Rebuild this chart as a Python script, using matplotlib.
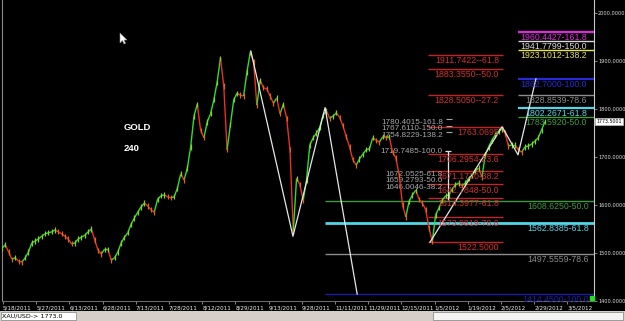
import numpy as np
import matplotlib
matplotlib.use("Agg")
import matplotlib.pyplot as plt
from matplotlib import font_manager
from matplotlib.collections import LineCollection
from matplotlib.patches import Rectangle, Polygon

# ---- data (XAU/USD, 240 min bars, closes) ----
closes = [
    1510, 1517, 1502, 1487, 1490, 1483, 1481, 1490, 1502, 1521,
    1525, 1529, 1535, 1540, 1542, 1544, 1548, 1544, 1540, 1535,
    1529, 1519, 1521, 1529, 1533, 1537, 1544, 1550, 1527, 1506,
    1498, 1508, 1508, 1485, 1490, 1502, 1521, 1533, 1542, 1560,
    1573, 1585, 1596, 1604, 1598, 1590, 1585, 1612, 1619, 1621,
    1617, 1615, 1617, 1635, 1665, 1652, 1677, 1721, 1785, 1810,
    1756, 1740, 1773, 1790, 1819, 1856, 1906, 1848, 1715, 1767,
    1819, 1833, 1829, 1827, 1877, 1918, 1898, 1808, 1860, 1844,
    1842, 1827, 1812, 1823, 1790, 1810, 1781, 1715, 1545, 1656,
    1642, 1610, 1652, 1725, 1740, 1750, 1762, 1787, 1796, 1781,
    1785, 1792, 1783, 1765, 1742, 1721, 1694, 1683, 1696, 1706,
    1715, 1717, 1740, 1735, 1731, 1742, 1740, 1742, 1710, 1698,
    1662, 1600, 1575, 1608, 1621, 1631, 1612, 1604, 1590, 1552,
    1524, 1579, 1594, 1610, 1619, 1621, 1633, 1642, 1646, 1640,
    1646, 1656, 1662, 1671, 1677, 1658, 1704, 1721, 1735, 1746,
    1754, 1758, 1750, 1723, 1725, 1725, 1715, 1710, 1721, 1723,
    1727, 1733, 1740, 1756, 1773.5,
]
last_price = 1773.5001

date_labels = ["5/18/2011", "5/27/2011", "6/13/2011", "6/28/2011", "7/13/2011",
               "7/28/2011", "8/12/2011", "8/29/2011", "9/13/2011", "9/28/2011",
               "11/11/2011", "11/29/2011", "12/15/2011", "1/5/2012", "1/19/2012",
               "2/5/2012", "2/29/2012", "3/5/2012"]
price_ticks = [1400, 1500, 1600, 1700, 1800, 1900, 2000]

# white zigzags (bar index, price)
zz1_bar = [75.2, 87.9, 97.6, 107.3]
zz1_price = [1920.3, 1534.8, 1803.0, 1414.45]
zz2_bar = [129.3, 151.1, 155.9, 161.3]
zz2_price = [1522.5, 1763.07, 1704.47, 1862.7]

# projection levels of the first zigzag (long lines to the right edge)
long_prices = [1608.625, 1562.8385, 1497.5559, 1414.45]
long_labels = ["1608.6250-50.0", "1562.8385-61.8", "1497.5559-78.6", "1414.4500-100.0"]
long_colors = ["#3c9c3c", "#52d6e6", "#8c8c8c", "#1c1ca8"]

# extension levels of the second zigzag (top right)
top_prices = [1960.4427, 1941.7799, 1923.1012, 1862.7, 1828.8539, 1802.2671, 1783.592]
top_labels = ["1960.4427-161.8", "1941.7799-150.0", "1923.1012-138.2", "1862.7000-100.0",
              "1828.8539-78.6", "1802.2671-61.8", "1783.5920-50.0"]
top_colors = ["#e028e0", "#d8d8d8", "#e6e644", "#2a2ad8", "#8c8c8c", "#52d6e6", "#3c9c3c"]

# retracement / extension of 1522.5 -> 1763.07 (red)
red_prices = [1911.7422, 1883.355, 1828.505, 1763.0695, 1706.2954, 1671.172,
              1642.7848, 1614.3977, 1573.9819, 1522.5]
red_labels = ["1911.7422--61.8", "1883.3550--50.0", "1828.5050--27.2", "1763.0695",
              "1706.2954-23.6", "1671.1720-38.2", "1642.7848-50.0", "1614.3977-61.8",
              "1573.9819-78.6", "1522.5000"]

# grey extension labels
grey_prices = [1780.4015, 1767.6110, 1754.8229, 1719.7485, 1672.0525, 1659.2793, 1646.0046]
grey_labels = ["1780.4015-161.8", "1767.6110-150.0", "1754.8229-138.2", "1719.7485-100.0",
               "1672.0525-61.8", "1659.2793-50.0", "1646.0046-38.2"]

# ---- fonts ----
names = {f.name for f in font_manager.fontManager.ttflist}
NARROW = "Liberation Sans Narrow" if "Liberation Sans Narrow" in names else "DejaVu Sans"
SANS = "Liberation Sans" if "Liberation Sans" in names else "DejaVu Sans"
fs_lab = 6.3 if SANS != "DejaVu Sans" else 5.6
fs_small = 4.5 if NARROW != "DejaVu Sans" else 3.6

W, H = 625, 321
PX = 3.31  # pixels per bar


def bx(px):
    return (px - 2) / PX


fig = plt.figure(figsize=(W / 100, H / 100), dpi=100, facecolor="black")
ax = fig.add_axes([2 / W, 20 / H, 592 / W, 301 / H], facecolor="black")
ax.set_xlim(0, 592 / PX)
ax.set_ylim(1400.0, 2027.1)

# price bars: thin line, green up / red down, with short bar ticks
xs = np.arange(len(closes))
pts = np.column_stack([xs, closes])
segs = np.stack([pts[:-1], pts[1:]], axis=1)
up = [b >= a for a, b in zip(closes[:-1], closes[1:])]
cols = ["#2ede2e" if u else "#e8321e" for u in up]
ax.add_collection(LineCollection(segs, colors=cols, linewidths=1.0, zorder=3))
tick_cols = ["#8ccf2a" if u else "#d9681c" for u in [True] + up]
ax.scatter(xs, closes, marker="|", s=14, c=tick_cols, linewidths=0.9, zorder=3)

# zigzags
ax.plot(zz1_bar, zz1_price, color="#e6e6e6", lw=0.9, zorder=4)
ax.plot(zz2_bar, zz2_price, color="#e6e6e6", lw=0.9, zorder=4)

# long level lines
for p, lab, c in zip(long_prices, long_labels, long_colors):
    ax.hlines(p, zz1_bar[2], 592 / PX, color=c, lw=2.0 if c == "#52d6e6" else 1.0, zorder=2)
    ax.annotate(lab, (bx(589), p), xytext=(0, -0.8), textcoords="offset points",
                ha="right", va="top", color=c, fontsize=fs_lab, family=SANS, zorder=5)

# top right levels
for p, lab, c in zip(top_prices, top_labels, top_colors):
    ax.hlines(p, zz2_bar[2], 592 / PX, color=c,
              lw=1.6 if c in ("#52d6e6", "#e028e0", "#2a2ad8") else 1.0, zorder=2)
    ax.annotate(lab, (bx(587), p), xytext=(0, -0.8), textcoords="offset points",
                ha="right", va="top", color=c, fontsize=fs_lab, family=SANS, zorder=5)

# red levels
for p, lab in zip(red_prices, red_labels):
    ax.hlines(p, zz2_bar[0] - 0.5, zz2_bar[1] + 0.4, color="#c02424", lw=1.0, zorder=2)
    ax.annotate(lab, (bx(499), p), xytext=(0, -0.8), textcoords="offset points",
                ha="right", va="top", color="#d23030", fontsize=fs_lab, family=SANS, zorder=5)

# grey labels (stacked tightly, as in the source)
for p, lab in zip(grey_prices, grey_labels):
    ax.annotate(lab, (bx(443), p), xytext=(0, -0.6), textcoords="offset points",
                ha="right", va="top", color="#a8a8a8", fontsize=fs_lab - 0.4, family=SANS,
                zorder=2)
for p in grey_prices[:3]:
    ax.hlines(p - 2, bx(446), bx(452), color="#a8a8a8", lw=0.8, zorder=2)

# small white marker
ax.vlines(bx(448), 1611, 1713, color="#e0e0e0", lw=0.9, zorder=4)
ax.hlines(1713, bx(445), bx(451), color="#e0e0e0", lw=0.9, zorder=4)

# title text
ax.text(bx(124), 1762, "GOLD", color="white", fontsize=6.8, fontweight="bold",
        family=SANS, va="center", ha="left")
ax.text(bx(124), 1718, "240", color="white", fontsize=6.8, fontweight="bold",
        family=SANS, va="center", ha="left")

# axes styling
ax.yaxis.tick_right()
ax.set_yticks(price_ticks)
ax.set_yticklabels([f"{v:.4f}" for v in price_ticks])
ax.set_xticks([0.3 + 10.03 * k for k in range(len(date_labels))])
ax.set_xticklabels(date_labels, ha="left")
ax.tick_params(axis="y", colors="#9a9a9a", labelcolor="#e0e0e0", length=2, width=0.6,
               labelsize=fs_small, pad=1.0)
ax.tick_params(axis="x", colors="#9a9a9a", labelcolor="#f0f0f0", length=2, width=0.6,
               labelsize=fs_small + 0.5, pad=1.0)
for lab in ax.get_xticklabels() + ax.get_yticklabels():
    lab.set_family(NARROW)
ax.spines["top"].set_visible(False)
ax.spines["right"].set_color("#c8c8c8")
ax.spines["left"].set_color("#8a8a8a")
ax.spines["bottom"].set_color("#6a6a6a")

# last price box
ax.text(1.004, last_price, f"{last_price:.4f}", transform=ax.get_yaxis_transform(),
        fontsize=fs_small - 0.2, family=NARROW, color="black", va="center", ha="left",
        bbox=dict(boxstyle="square,pad=0.2", facecolor="white", edgecolor="#c0c0c0", lw=0.5))

# green corner square
ax.plot([bx(591.5)], [1406.0], marker="s", color="#20e020", ms=3.5, clip_on=False, zorder=6)

# status bar
fig.patches.append(Rectangle((0, 0), 1, 10 / H, transform=fig.transFigure,
                             facecolor="#d4d0c8", edgecolor="none"))
fig.patches.append(Rectangle((0.5 / W, 1 / H), 75 / W, 8 / H, transform=fig.transFigure,
                             facecolor="white", edgecolor="#808080", lw=0.5))
fig.patches.append(Rectangle((433 / W, 1 / H), 190 / W, 8 / H, transform=fig.transFigure,
                             facecolor="#f4f4f4", edgecolor="#808080", lw=0.5))
fig.text(2 / W, 5 / H, "XAU/USD-> 1773.0", fontsize=4.6, family=NARROW, color="black",
         va="center", ha="left")

# mouse cursor
cur = np.array([[120, 288], [120, 278], [122.5, 280.5], [124, 277], [125.5, 277.7],
                [124, 281], [127, 281]])
fig.patches.append(Polygon(cur / [W, H], closed=True, transform=fig.transFigure,
                           facecolor="white", edgecolor="#909090", lw=0.4))

fig.savefig("out.png", dpi=100, facecolor="black")
